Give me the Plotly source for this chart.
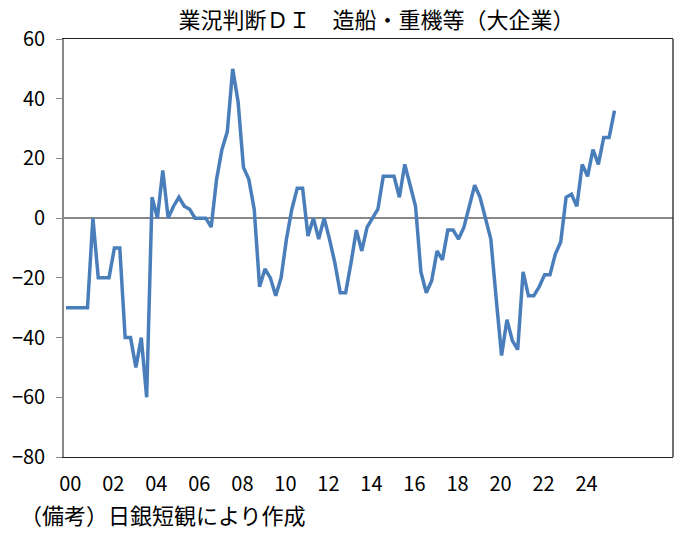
import plotly.graph_objects as go

# 業況判断DI 造船・重機等（大企業）, quarterly from 2000Q1
start_year = 2000
di = [-30, -30, -30, -30, -30, 0, -20, -20, -20, -10,
      -10, -40, -40, -50, -40, -60, 7, 0, 16, 0,
      4, 7, 4, 3, 0, 0, 0, -3, 13, 23,
      29, 50, 39, 17, 13, 3, -23, -17, -20, -26,
      -20, -7, 3, 10, 10, -6, 0, -7, 0, -7,
      -15, -25, -25, -15, -4, -11, -3, 0, 3, 14,
      14, 14, 7, 18, 11, 4, -18, -25, -21, -11,
      -14, -4, -4, -7, -3, 4, 11, 7, 0, -7,
      -27, -46, -34, -41, -44, -18, -26, -26, -23, -19,
      -19, -12, -8, 7, 8, 4, 18, 14, 23, 18,
      27, 27, 36]
label_years = list(range(2000, 2025, 2))
label_text = [f"{y % 100:02d}" for y in label_years]

xq = [start_year + i / 4 for i in range(len(di))]

tick_font = dict(family="Noto Sans CJK JP", size=20, color="black")
jp_font = "Noto Sans CJK JP"

fig = go.Figure(go.Scatter(x=xq, y=di, mode="lines",
                           line=dict(color="#4A7EBB", width=3.5),
                           hoverinfo="x+y"))

fig.update_layout(
    width=689, height=536,
    margin=dict(l=64, r=16, t=39, b=79),
    paper_bgcolor="white", plot_bgcolor="white",
    showlegend=False,
    title=dict(text="業況判断ＤＩ　造船・重機等（大企業）",
               font=dict(family=jp_font, size=22, color="black"),
               x=0.513, xref="paper", xanchor="center",
               y=0.962, yref="container", yanchor="middle"),
    xaxis=dict(range=[1999.907, 2028.22], tickvals=[y + 0.2 for y in label_years],
               ticktext=label_text, ticks="", showgrid=False, zeroline=False,
               showline=True, linecolor="#222", linewidth=1.3, mirror=True,
               tickfont=tick_font, ticklabelstandoff=9,
               fixedrange=True, automargin=False),
    yaxis=dict(range=[-80, 60], dtick=20, ticks="outside", ticklen=6,
               tickcolor="#888", tickwidth=1.3, showgrid=False,
               zeroline=True, zerolinecolor="#888", zerolinewidth=1.6,
               showline=True, linecolor="#888", linewidth=1.6,
               tickfont=tick_font, ticklabelstandoff=7,
               fixedrange=True, automargin=False),
    shapes=[dict(type="line", xref="paper", yref="paper", x0=1, x1=1, y0=0, y1=1,
                 line=dict(color="#222", width=1.3))],
    annotations=[dict(text="（備考）日銀短観により作成", xref="paper", yref="paper",
                      x=-0.076, y=-0.136, xanchor="left", yanchor="middle",
                      showarrow=False,
                      font=dict(family=jp_font, size=22, color="black"))],
)

# drop the default 8px body margin so the figure sits at the window corner
fig.write_html("out.html", config={"displayModeBar": False},
               post_script="document.body.style.margin='0';")
